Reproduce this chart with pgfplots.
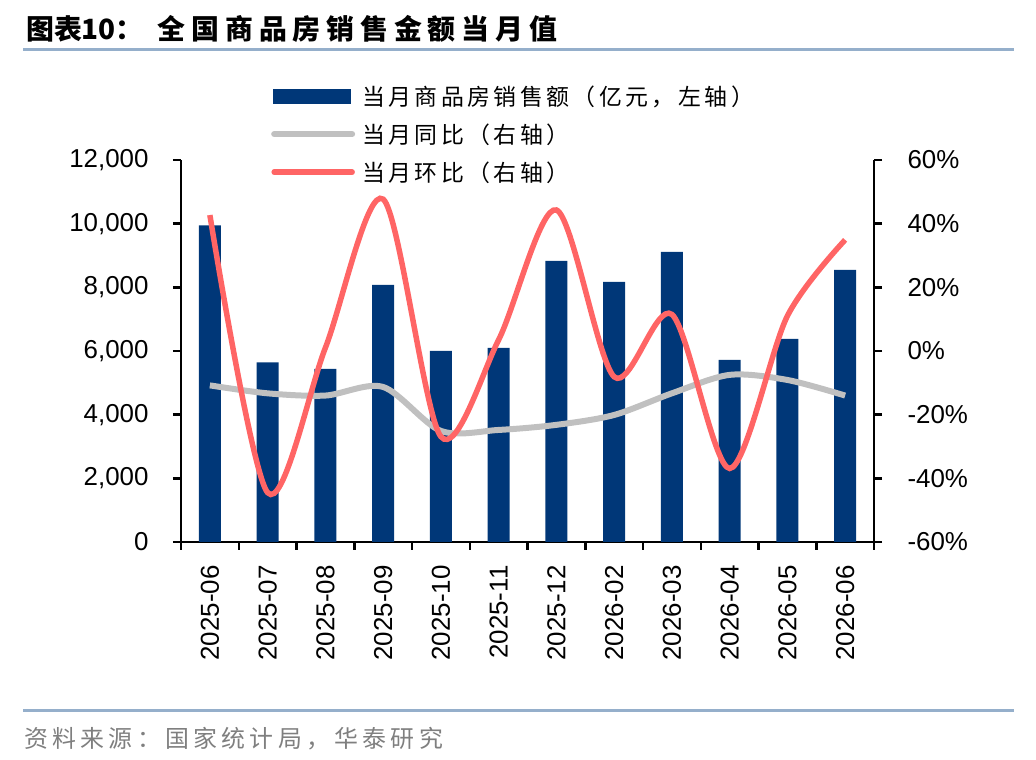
\documentclass[border=0pt]{standalone}
\usepackage{pgfplots}
\usepackage{pgfplotstable}
\pgfplotsset{compat=1.18}
\usepackage{fontspec}
\setmainfont{Liberation Sans}
\newfontfamily\cjk{Noto Sans CJK SC}
\definecolor{barblue}{HTML}{003778}
\definecolor{redl}{HTML}{FF6565}
\definecolor{grayl}{HTML}{C0C0C0}
\definecolor{rulec}{HTML}{95AFCB}
\definecolor{srcgray}{HTML}{7F7F7F}

\pgfplotstableread{
x bar yoy mom
0 9950 -10.8 42.7
1 5640 -13.3 -44.5
2 5440 -14.0 1.0
3 8080 -11.3 47.7
4 6000 -25.1 -26.9
5 6100 -24.8 3.5
6 8830 -23.2 44.3
7 8170 -20.1 -8.1
8 9110 -13.3 11.5
9 5720 -7.5 -36.9
10 6380 -9.1 11.0
11 8550 -14.0 34.9
}\datatable

\begin{document}
\begin{tikzpicture}
\path[use as bounding box] (0,0) rectangle (1036bp,760bp);
% title
\node[anchor=west, inner sep=0pt] at (26bp,731bp)
  {\cjk\bfseries\fontsize{28}{32}\selectfont 图表10：\hspace{14bp}\addfontfeature{LetterSpace=21}全国商品房销售金额当月值};
\draw[rulec, line width=3bp] (23bp,710bp) -- (1014bp,710bp);
\draw[rulec, line width=3bp] (23bp,49bp) -- (1014bp,49bp);
\node[anchor=west, inner sep=0pt, text=srcgray] at (24bp,21bp)
  {\cjk\fontsize{24}{26}\selectfont\addfontfeature{LetterSpace=18}资料来源：国家统计局，华泰研究};

\pgfplotsset{
  every axis/.append style={
    at={(181bp,218bp)}, anchor=south west, scale only axis,
    width=693bp, height=382bp,
    xmin=-0.5, xmax=11.5,
    tick align=outside,
    axis line style={-, line width=2.5bp, black},
    major tick length=8bp, minor tick length=8bp,
    tick style={line width=2.5bp, black},
    ticklabel style={font=\fontsize{26}{30}\selectfont},
    /pgf/number format/assume math mode=true,
  }
}
\begin{axis}[
  ymin=0, ymax=12000,
  axis x line*=bottom, axis y line*=left,
  ytick={0,2000,...,12000},
  scaled y ticks=false,
  yticklabel style={/pgf/number format/1000 sep={,}, /pgf/number format/fixed, xshift=-21bp},
  xtick={0,...,11},
  xticklabels={2025-06,2025-07,2025-08,2025-09,2025-10,2025-11,2025-12,2026-02,2026-03,2026-04,2026-05,2026-06},
  major x tick style={draw=none},
  minor xtick={-0.5,0.5,...,11.5},
  xticklabel style={rotate=90, anchor=east, xshift=-12bp},
]
\addplot[ybar, bar width=22bp, fill=barblue, draw=none] table[x=x,y=bar]{\datatable};
\end{axis}
\begin{axis}[
  ymin=-60, ymax=60,
  axis y line*=right, axis x line=none,
  ytick={-60,-40,...,60},
  yticklabel={\pgfmathprintnumber{\tick}\%},
  yticklabel style={xshift=22bp},
  legend image code/.code={\draw[#1, line cap=round] (1bp,0bp) -- (79bp,0bp);},
  legend style={at={(0.1255,1.206)}, anchor=north west, draw=none, fill=none,
    font=\cjk\fontsize{23}{26}\selectfont\addfontfeature{LetterSpace=15},
    row sep=13bp, /tikz/every odd column/.append style={column sep=5bp}},
  legend cell align=left,
]
\addlegendimage{legend image code/.code={\fill[barblue] (0bp,-7bp) rectangle (77bp,7bp);}}
\addlegendentry{当月商品房销售额（亿元，左轴）}
\addplot[grayl, line width=6bp, smooth] table[x=x,y=yoy]{\datatable};
\addlegendentry{当月同比（右轴）}
\addplot[redl, line width=5.5bp, smooth] table[x=x,y=mom]{\datatable};
\addlegendentry{当月环比（右轴）}
\end{axis}
\end{tikzpicture}
\end{document}
